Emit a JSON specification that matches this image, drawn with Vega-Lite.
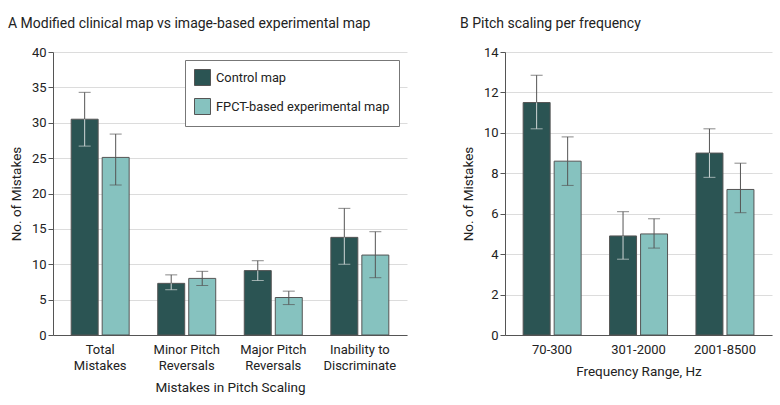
{
  "$schema": "https://vega.github.io/schema/vega-lite/v6.json",
  "background": "white",
  "padding": {"left": 8, "top": 17, "right": 6, "bottom": 5},
  "spacing": 53,
  "config": {
    "font": "Roboto",
    "view": {"stroke": null},
    "axis": {
      "labelFontSize": 13,
      "labelColor": "#222",
      "titleFontSize": 13.5,
      "titleFontWeight": "normal",
      "titleColor": "#222",
      "domainColor": "#555",
      "tickColor": "#555",
      "gridColor": "#dcdcdc",
      "labelOverlap": false
    },
    "title": {"fontSize": 14, "fontWeight": "normal", "color": "#222", "anchor": "start", "frame": "group"}
  },
  "resolve": {"scale": {"color": "independent"}},
  "datasets": {
    "a": [
      {"category": "Total Mistakes", "group": "Control map", "value": 30.5, "lower": 26.7, "upper": 34.3},
      {"category": "Total Mistakes", "group": "FPCT-based experimental map", "value": 25.1, "lower": 21.2, "upper": 28.4},
      {"category": "Minor Pitch Reversals", "group": "Control map", "value": 7.3, "lower": 6.4, "upper": 8.5},
      {"category": "Minor Pitch Reversals", "group": "FPCT-based experimental map", "value": 8.0, "lower": 7.0, "upper": 9.0},
      {"category": "Major Pitch Reversals", "group": "Control map", "value": 9.1, "lower": 7.7, "upper": 10.5},
      {"category": "Major Pitch Reversals", "group": "FPCT-based experimental map", "value": 5.3, "lower": 4.3, "upper": 6.2},
      {"category": "Inability to Discriminate", "group": "Control map", "value": 13.8, "lower": 10.0, "upper": 17.9},
      {"category": "Inability to Discriminate", "group": "FPCT-based experimental map", "value": 11.3, "lower": 8.1, "upper": 14.6}
    ],
    "b": [
      {"category": "70-300", "group": "Control map", "value": 11.5, "lower": 10.2, "upper": 12.85},
      {"category": "70-300", "group": "FPCT-based experimental map", "value": 8.6, "lower": 7.4, "upper": 9.8},
      {"category": "301-2000", "group": "Control map", "value": 4.9, "lower": 3.75, "upper": 6.1},
      {"category": "301-2000", "group": "FPCT-based experimental map", "value": 5.0, "lower": 4.3, "upper": 5.75},
      {"category": "2001-8500", "group": "Control map", "value": 9.0, "lower": 7.8, "upper": 10.2},
      {"category": "2001-8500", "group": "FPCT-based experimental map", "value": 7.2, "lower": 6.05, "upper": 8.5}
    ]
  },
  "hconcat": [
    {
      "width": 354,
      "height": 283,
      "data": {"name": "a"},
      "title": {"text": "A   Modified clinical map vs image-based experimental map", "dx": -45, "offset": 15},
      "encoding": {
        "x": {
          "field": "category", "type": "nominal",
          "sort": ["Total Mistakes", "Minor Pitch Reversals", "Major Pitch Reversals", "Inability to Discriminate"],
          "scale": {"paddingInner": 0.33, "paddingOuter": 0.21},
          "axis": {
            "title": "Mistakes in Pitch Scaling", "labelAngle": 0, "ticks": false, "labelPadding": 8,
            "labelLineHeight": 16, "titlePadding": 8,
            "labelExpr": "split(replace(datum.label, regexp(' (Mistakes|Reversals|Discriminate)$'), '|$1'), '|')"
          }
        },
        "xOffset": {"field": "group", "type": "nominal", "scale": {"paddingInner": 0.13}}
      },
      "layer": [
        {
          "mark": {"type": "bar", "stroke": "#555", "strokeWidth": 1},
          "encoding": {
            "y": {
              "field": "value", "type": "quantitative",
              "scale": {"domain": [0, 40]},
              "axis": {"title": "No. of Mistakes", "values": [0, 5, 10, 15, 20, 25, 30, 35, 40], "tickSize": 5, "titlePadding": 8}
            },
            "color": {
              "field": "group", "type": "nominal",
              "scale": {"domain": ["Control map", "FPCT-based experimental map"], "range": ["#2b5453", "#86c2bf"]},
              "legend": {
                "title": null, "orient": "top-right", "offset": 8, "padding": 9,
                "strokeColor": "#777", "fillColor": "white", "symbolType": "square", "symbolSize": 256,
                "symbolStrokeColor": "#555", "symbolStrokeWidth": 1, "symbolOpacity": 1,
                "labelFontSize": 12.8, "labelColor": "#222", "rowPadding": 8, "labelOffset": 5, "labelLimit": 300
              }
            }
          }
        },
        {
          "mark": {"type": "rule", "color": "#555", "strokeWidth": 1},
          "encoding": {
            "y": {"field": "value", "type": "quantitative", "scale": {"domain": [0, 40]},
              "axis": {"title": "No. of Mistakes", "values": [0, 5, 10, 15, 20, 25, 30, 35, 40], "tickSize": 5, "titlePadding": 8}},
            "y2": {"field": "upper"}
          }
        },
        {
          "mark": {"type": "rule", "strokeWidth": 1},
          "encoding": {
            "y": {"field": "lower", "type": "quantitative", "scale": {"domain": [0, 40]},
              "axis": {"title": "No. of Mistakes", "values": [0, 5, 10, 15, 20, 25, 30, 35, 40], "tickSize": 5, "titlePadding": 8}},
            "y2": {"field": "value"},
            "color": {"condition": {"test": "datum.group === 'Control map'", "value": "#cfd6d6"}, "value": "#555"}
          }
        },
        {
          "mark": {"type": "tick", "color": "#555", "size": 12, "thickness": 1},
          "encoding": {
            "y": {"field": "upper", "type": "quantitative", "scale": {"domain": [0, 40]},
              "axis": {"title": "No. of Mistakes", "values": [0, 5, 10, 15, 20, 25, 30, 35, 40], "tickSize": 5, "titlePadding": 8}}
          }
        },
        {
          "mark": {"type": "tick", "size": 12, "thickness": 1},
          "encoding": {
            "y": {"field": "lower", "type": "quantitative", "scale": {"domain": [0, 40]},
              "axis": {"title": "No. of Mistakes", "values": [0, 5, 10, 15, 20, 25, 30, 35, 40], "tickSize": 5, "titlePadding": 8}},
            "color": {"condition": {"test": "datum.group === 'Control map'", "value": "#cfd6d6"}, "value": "#555"}
          }
        }
      ]
    },
    {
      "width": 267,
      "height": 283,
      "data": {"name": "b"},
      "title": {"text": "B   Pitch scaling per frequency", "dx": -45, "offset": 15},
      "encoding": {
        "x": {
          "field": "category", "type": "nominal",
          "sort": ["70-300", "301-2000", "2001-8500"],
          "scale": {"paddingInner": 0.33, "paddingOuter": 0.21},
          "axis": {"title": "Frequency Range, Hz", "labelAngle": 0, "ticks": false, "labelPadding": 8, "titlePadding": 8}
        },
        "xOffset": {"field": "group", "type": "nominal", "scale": {"paddingInner": 0.13}}
      },
      "layer": [
        {
          "mark": {"type": "bar", "stroke": "#555", "strokeWidth": 1},
          "encoding": {
            "y": {
              "field": "value", "type": "quantitative",
              "scale": {"domain": [0, 14]},
              "axis": {"title": "No. of Mistakes", "values": [0, 2, 4, 6, 8, 10, 12, 14], "tickSize": 5, "titlePadding": 8}
            },
            "color": {
              "field": "group", "type": "nominal",
              "scale": {"domain": ["Control map", "FPCT-based experimental map"], "range": ["#2b5453", "#86c2bf"]},
              "legend": null
            }
          }
        },
        {
          "mark": {"type": "rule", "color": "#555", "strokeWidth": 1},
          "encoding": {
            "y": {"field": "value", "type": "quantitative", "scale": {"domain": [0, 14]},
              "axis": {"title": "No. of Mistakes", "values": [0, 2, 4, 6, 8, 10, 12, 14], "tickSize": 5, "titlePadding": 8}},
            "y2": {"field": "upper"}
          }
        },
        {
          "mark": {"type": "rule", "strokeWidth": 1},
          "encoding": {
            "y": {"field": "lower", "type": "quantitative", "scale": {"domain": [0, 14]},
              "axis": {"title": "No. of Mistakes", "values": [0, 2, 4, 6, 8, 10, 12, 14], "tickSize": 5, "titlePadding": 8}},
            "y2": {"field": "value"},
            "color": {"condition": {"test": "datum.group === 'Control map'", "value": "#cfd6d6"}, "value": "#555"}
          }
        },
        {
          "mark": {"type": "tick", "color": "#555", "size": 12, "thickness": 1},
          "encoding": {
            "y": {"field": "upper", "type": "quantitative", "scale": {"domain": [0, 14]},
              "axis": {"title": "No. of Mistakes", "values": [0, 2, 4, 6, 8, 10, 12, 14], "tickSize": 5, "titlePadding": 8}}
          }
        },
        {
          "mark": {"type": "tick", "size": 12, "thickness": 1},
          "encoding": {
            "y": {"field": "lower", "type": "quantitative", "scale": {"domain": [0, 14]},
              "axis": {"title": "No. of Mistakes", "values": [0, 2, 4, 6, 8, 10, 12, 14], "tickSize": 5, "titlePadding": 8}},
            "color": {"condition": {"test": "datum.group === 'Control map'", "value": "#cfd6d6"}, "value": "#555"}
          }
        }
      ]
    }
  ]
}
